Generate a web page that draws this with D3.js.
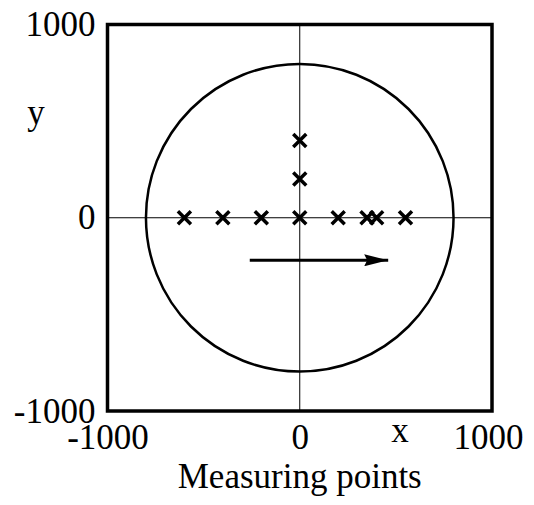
<!DOCTYPE html>
<html>
<head>
<meta charset="utf-8">
<script src="https://cdn.jsdelivr.net/npm/d3@7"></script>
<style>
  body { margin: 0; background: #fff; }
  text { font-family: "Liberation Serif", "Times New Roman", serif; }
</style>
</head>
<body>
<div id="chart-area"></div>
<script>
// measuring point coordinates
var pointX = [-600, -400, -200, 0, 200, 350, 400, 550, 0, 0];
var pointY = [0, 0, 0, 0, 0, 0, 0, 0, 200, 400];
var circleRadius = [800];
var arrowX = [-260, 460];
var arrowY = [-220, -220];
var tickLabels = [-1000, 0, 1000];

var margin = { left: 107.5, right: 42, top: 24.5, bottom: 94 };
var width = 534 - margin.left - margin.right;
var height = 505 - margin.top - margin.bottom;

var svg = d3.select("#chart-area")
        .append("svg")
                .attr("width", 534)
                .attr("height", 505)
                .append("g")
                        .attr("transform", "translate(" + margin.left + "," + margin.top + ")");

var x = d3.scaleLinear().domain([-1000, 1000]).range([0, width]);
var y = d3.scaleLinear().domain([-1000, 1000]).range([height, 0]);

var defs = svg.append("defs");
defs.append("marker")
        .attr("id", "head")
        .attr("viewBox", "0 0 24 12")
        .attr("refX", 24)
        .attr("refY", 6)
        .attr("markerWidth", 24)
        .attr("markerHeight", 12)
        .attr("markerUnits", "userSpaceOnUse")
        .attr("orient", "auto")
        .append("path")
                .attr("d", "M0,0 L24,6 L0,12 L3,6 Z")
                .attr("fill", "#000");

// zero lines
svg.append("line")
        .attr("x1", x(-1000)).attr("x2", x(1000))
        .attr("y1", y(0)).attr("y2", y(0))
        .attr("stroke", "#000").attr("stroke-width", 1);
svg.append("line")
        .attr("x1", x(0)).attr("x2", x(0))
        .attr("y1", y(-1000)).attr("y2", y(1000))
        .attr("stroke", "#000").attr("stroke-width", 1);

// circle
svg.selectAll("circle.area")
        .data(circleRadius)
        .enter()
        .append("circle")
        .attr("class", "area")
        .attr("cx", x(0))
        .attr("cy", y(0))
        .attr("r", d => x(d) - x(0))
        .attr("fill", "none")
        .attr("stroke", "#000")
        .attr("stroke-width", 2.5);

// arrow
svg.append("line")
        .attr("x1", x(arrowX[0])).attr("x2", x(arrowX[1]))
        .attr("y1", y(arrowY[0])).attr("y2", y(arrowY[1]))
        .attr("stroke", "#000")
        .attr("stroke-width", 3)
        .attr("marker-end", "url(#head)");

// points
var s = 6.5;
svg.selectAll("path.pt")
        .data(pointX.map((d, i) => ({ x: d, y: pointY[i] })))
        .enter()
        .append("path")
        .attr("class", "pt")
        .attr("d", d => {
                var cx = x(d.x), cy = y(d.y);
                return "M" + (cx - s) + "," + (cy - s) + "L" + (cx + s) + "," + (cy + s) +
                       "M" + (cx - s) + "," + (cy + s) + "L" + (cx + s) + "," + (cy - s);
        })
        .attr("stroke", "#000")
        .attr("stroke-width", 3.5)
        .attr("fill", "none");

// frame
svg.append("rect")
        .attr("x", 0).attr("y", 0)
        .attr("width", width).attr("height", height)
        .attr("fill", "none")
        .attr("stroke", "#000")
        .attr("stroke-width", 3.5);

// axes
var xAxisCall = d3.axisBottom(x).tickValues(tickLabels).tickSize(0).tickPadding(0)
        .tickFormat(d => String(d));
var xg = svg.append("g")
        .attr("class", "x-axis")
        .attr("transform", "translate(0," + height + ")")
        .call(xAxisCall);
xg.select(".domain").remove();
xg.selectAll("text")
        .attr("font-size", "35px")
        .attr("font-family", "Liberation Serif")
        .attr("fill", "#000")
        .attr("dy", null)
        .attr("y", 38)
        .attr("x", d => d === 1000 ? -4 : 0);

var yAxisCall = d3.axisLeft(y).tickValues(tickLabels).tickSize(0).tickPadding(12)
        .tickFormat(d => String(d));
var yg = svg.append("g")
        .attr("class", "y-axis")
        .call(yAxisCall);
yg.select(".domain").remove();
yg.selectAll("text")
        .attr("font-size", "35px")
        .attr("font-family", "Liberation Serif")
        .attr("fill", "#000")
        .attr("dy", "0.32em");

svg.append("text")
        .attr("x", 400 - margin.left)
        .attr("y", 442 - margin.top)
        .attr("text-anchor", "middle")
        .attr("font-size", "35px")
        .text("x");

svg.append("text")
        .attr("x", 36 - margin.left)
        .attr("y", 124 - margin.top)
        .attr("text-anchor", "middle")
        .attr("font-size", "35px")
        .text("y");

svg.append("text")
        .attr("x", width / 2)
        .attr("y", 488 - margin.top)
        .attr("text-anchor", "middle")
        .attr("font-size", "35px")
        .text("Measuring points");
</script>
</body>
</html>
